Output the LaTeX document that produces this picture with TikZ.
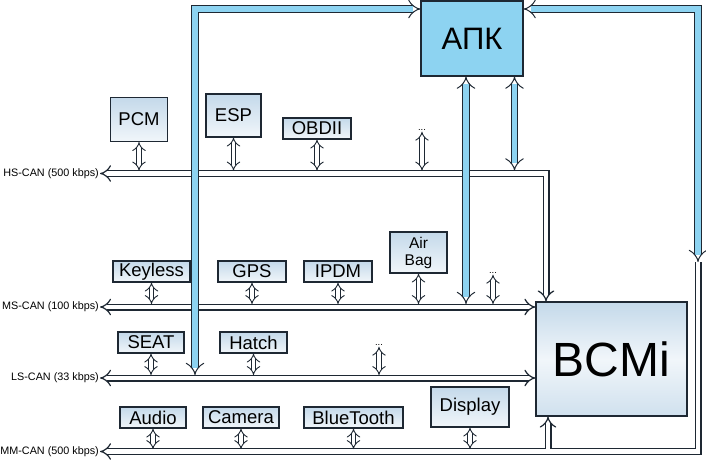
\documentclass[tikz,border=0pt]{standalone}
\usepackage{fontspec}
\setmainfont{Liberation Sans}
\usepackage{xcolor}
\usetikzlibrary{arrows.meta,positioning}
\definecolor{apkBlau}{HTML}{8DD3F1}
\definecolor{rand}{HTML}{1E2833}
\definecolor{ecuOben}{HTML}{C4D9EA}
\definecolor{ecuUnten}{HTML}{F1F6FA}
\tikzstyle{steuer} = [draw=rand, line width=1.1pt, top color=ecuOben, bottom color=ecuUnten,
	inner sep=0pt, font=\fontsize{18.5}{20}\selectfont]
\tikzstyle{zentrale} = [draw=rand, line width=1.1pt, fill=apkBlau, inner sep=0pt,
	font=\fontsize{31}{31}\selectfont]
\tikzstyle{bcm} = [draw=rand, line width=1.1pt, top color=ecuOben, bottom color=ecuOben!80,
	middle color=ecuUnten, inner sep=0pt, font=\fontsize{48}{48}\selectfont]
\tikzstyle{bus} = [draw=rand, line width=1.2pt, double=white, double distance=4.6pt,
	line join=miter, {Implies}-{Implies}]
\tikzstyle{stich} = [draw=rand, line width=0.9pt, double=white, double distance=3.8pt,
	{Implies}-{Implies}]
\tikzstyle{blauLeitung} = [draw=rand, line width=1pt, double=apkBlau, double distance=5.6pt,
	line join=miter, {Implies}-{Implies}]
\tikzstyle{busName} = [anchor=east, inner sep=1pt, font=\fontsize{10.8}{11}\selectfont]
\tikzstyle{punkte} = [inner sep=1pt, font=\fontsize{9.5}{9.5}\selectfont]

\begin{document}
\begin{tikzpicture}[x=1pt,y=-1pt]
		\useasboundingbox (0,0) rectangle (706,459);
		% Knoten: Zentralen
		\node[zentrale, minimum width=102pt, minimum height=75pt] (apk) at (472,38.5) {АПК};	% Gateway oben
		\node[bcm, minimum width=151pt, minimum height=114pt] (bcmi) at (611.5,359) {BCMi};		% Body Control Module
		% Knoten: HS-CAN
		\node[steuer, minimum width=57pt, minimum height=44pt] (pcm) at (139,119.5) {PCM};
		\node[steuer, minimum width=55pt, minimum height=43pt] (esp) at (233.5,115.5) {ESP};
		\node[steuer, minimum width=68pt, minimum height=21pt] (obd) at (317,128.5) {OBDII};
		\node[punkte] (hs-p) at (422,130) {...};
		% Knoten: MS-CAN
		\node[steuer, minimum width=77pt, minimum height=21pt] (keyless) at (151.5,271.5) {Keyless};
		\node[steuer, minimum width=68pt, minimum height=21pt] (gps) at (252,271.5) {GPS};
		\node[steuer, minimum width=68pt, minimum height=21pt] (ipdm) at (338,271.5) {IPDM};
		\node[steuer, minimum width=57pt, minimum height=41pt, align=center,
			font=\fontsize{15.5}{17}\selectfont] (airbag) at (418.5,252.5) {Air\\Bag};
		\node[punkte] (ms-p) at (493,273) {...};
		% Knoten: LS-CAN
		\node[steuer, minimum width=66pt, minimum height=21pt] (seat) at (151,342.5) {SEAT};
		\node[steuer, minimum width=67pt, minimum height=21pt] (hatch) at (253.5,342.5) {Hatch};
		\node[punkte] (ls-p) at (379,345) {...};
		% Knoten: MM-CAN
		\node[steuer, minimum width=66pt, minimum height=21pt] (audio) at (153,417.5) {Audio};
		\node[steuer, minimum width=76pt, minimum height=21pt] (camera) at (241,417.5) {Camera};
		\node[steuer, minimum width=99pt, minimum height=21pt] (bt) at (353.5,417.5) {BlueTooth};
		\node[steuer, minimum width=78pt, minimum height=40pt] (display) at (470,407) {Display};
		
		% Koordinaten der Busse
		\coordinate (hs-w) at (100,173.5);		% HS-CAN links
		\coordinate (hs-o) at (546,173.5);		% HS-CAN Ecke
		\coordinate (hs-t) at (0,170.5);		% Oberkante HS-CAN
		\coordinate (ms-w) at (100,307);
		\coordinate (ms-t) at (0,304);
		\coordinate (ls-w) at (100,378);
		\coordinate (ls-t) at (0,375);
		\coordinate (mm-w) at (100,451.5);
		\coordinate (mm-o) at (698,451.5);		% MM-CAN Ecke rechts
		\coordinate (mm-n) at (698,262);		% MM-CAN Ende oben
		\coordinate (mm-t) at (0,449);
		\coordinate (bcm-s) at (548,449);		% Abzweig zum BCMi
		\coordinate (blau-w) at (195,9);		% Ecke links oben
		\coordinate (blau-s) at (195,375);
		\coordinate (blau-o) at (698,9);		% Ecke rechts oben
		\coordinate (apk-a) at (466,304);
		\coordinate (apk-b) at (514.5,170.5);
		
		% Busnamen
		\node[busName] (hs-name) at (hs-w) {HS-CAN (500 kbps)};
		\node[busName] (ms-name) at (ms-w) {MS-CAN (100 kbps)};
		\node[busName] (ls-name) at (ls-w) {LS-CAN (33 kbps)};
		\node[busName] (mm-name) at (mm-w) {MM-CAN (500 kbps)};
		
		% Busse
		\draw[bus] (hs-w) -- (hs-o) -- (hs-o |- bcmi.north);
		\draw[bus] (ms-w) -- (ms-w -| bcmi.west);
		\draw[bus] (ls-w) -- (ls-w -| bcmi.west);
		\draw[bus, {Implies}-] (mm-w) -- (mm-o) -- (mm-n);
		\draw[bus, -{Implies}] (bcm-s) -- (bcm-s |- bcmi.south);
		
		% blaue Leitungen zum АПК
		\draw[blauLeitung] (blau-s) -- (blau-w) -- (blau-w -| apk.west);
		\draw[blauLeitung] (blau-o -| apk.east) -- (blau-o) -- (mm-n);
		\draw[blauLeitung] (apk-a |- apk.south) -- (apk-a);
		\draw[blauLeitung] (apk-b |- apk.south) -- (apk-b);
		
		% Stichleitungen
		\foreach \n/\b in {pcm/hs, esp/hs, obd/hs, hs-p/hs, keyless/ms, gps/ms, ipdm/ms, airbag/ms, ms-p/ms,
			seat/ls, hatch/ls, ls-p/ls, audio/mm, camera/mm, bt/mm, display/mm}
			\draw[stich] (\n.south) -- (\n.south |- \b-t);
\end{tikzpicture}
\end{document}
